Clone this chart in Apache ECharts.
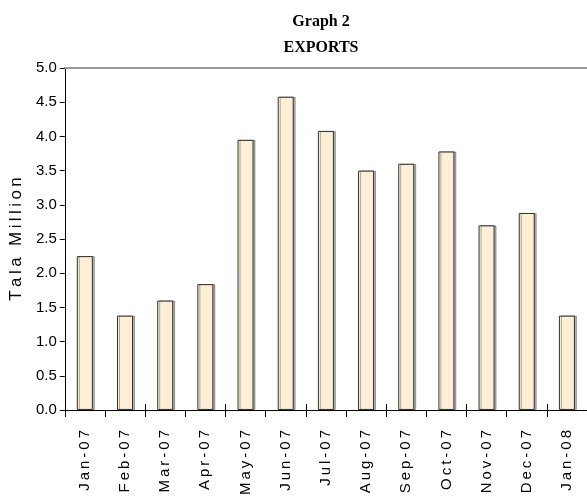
<!DOCTYPE html>
<html>
<head>
<meta charset="utf-8">
<script src="https://cdn.jsdelivr.net/npm/echarts@6/dist/echarts.min.js"></script>
<style>html,body{margin:0;padding:0;background:#fff}#c{width:587px;height:498px}</style>
</head>
<body>
<div id="c"></div>
<script>
const titleLines = ['Graph 2', 'EXPORTS'];
const yAxisName = 'Tala Million';
const categories = ['Jan-07','Feb-07','Mar-07','Apr-07','May-07','Jun-07','Jul-07','Aug-07','Sep-07','Oct-07','Nov-07','Dec-07','Jan-08'];
const exportsValues = [2.25, 1.38, 1.60, 1.84, 3.95, 4.58, 4.08, 3.50, 3.60, 3.78, 2.70, 2.88, 1.38];
const yTicks = { min: 0, max: 5, interval: 0.5 };

const spaced = s => s.split('').join('\u2009');
const chart = echarts.init(document.getElementById('c'), null, {renderer: 'canvas'});
chart.setOption({
  animation: false,
  title: {
    text: titleLines.join('\n'),
    left: 316, top: 4, textAlign: 'center',
    textStyle: { fontFamily: 'Liberation Serif', fontWeight: 'bold', fontSize: 16, lineHeight: 26, color: '#000' }
  },
  grid: { left: 60, right: 0, top: 68, bottom: 82 },
  xAxis: [{
    type: 'category', data: categories,
    axisLine: { lineStyle: { color: '#000', width: 1 } },
    axisTick: { show: true, length: 7, lineStyle: { color: '#000' } },
    axisLabel: { rotate: 90, interval: 0, margin: 20, fontFamily: 'Liberation Sans', fontSize: 15, color: '#000',
                 formatter: v => spaced(v) }
  }, {
    type: 'category', data: categories, position: 'top',
    axisLine: { show: true, lineStyle: { color: '#999', width: 2 } },
    axisTick: { show: false }, axisLabel: { show: false }
  }, {
    type: 'category', data: categories, position: 'bottom', offset: 0,
    axisLine: { show: false },
    axisTick: { show: true, inside: true, length: 6, lineStyle: { color: '#000' } },
    axisLabel: { show: false }
  }],
  yAxis: {
    type: 'value', min: yTicks.min, max: yTicks.max, interval: yTicks.interval,
    name: spaced(yAxisName), nameLocation: 'middle', nameGap: 36, nameRotate: 90,
    nameTextStyle: { fontFamily: 'Liberation Sans', fontSize: 17, color: '#000' },
    axisLine: { show: true, lineStyle: { color: '#000' } },
    axisTick: { show: true, length: 5, lineStyle: { color: '#000' } },
    splitLine: { show: false },
    axisLabel: { formatter: v => v.toFixed(1), fontFamily: 'Liberation Sans', fontSize: 15, color: '#000', margin: 8 }
  },
  series: [{
    type: 'bar', data: exportsValues, barWidth: 16,
    itemStyle: { color: '#fcefd6', borderColor: '#333', borderWidth: 1,
                 shadowColor: 'rgba(0,0,0,0.3)', shadowOffsetX: 2, shadowOffsetY: 0, shadowBlur: 0 }
  }]
});
</script>
</body>
</html>
